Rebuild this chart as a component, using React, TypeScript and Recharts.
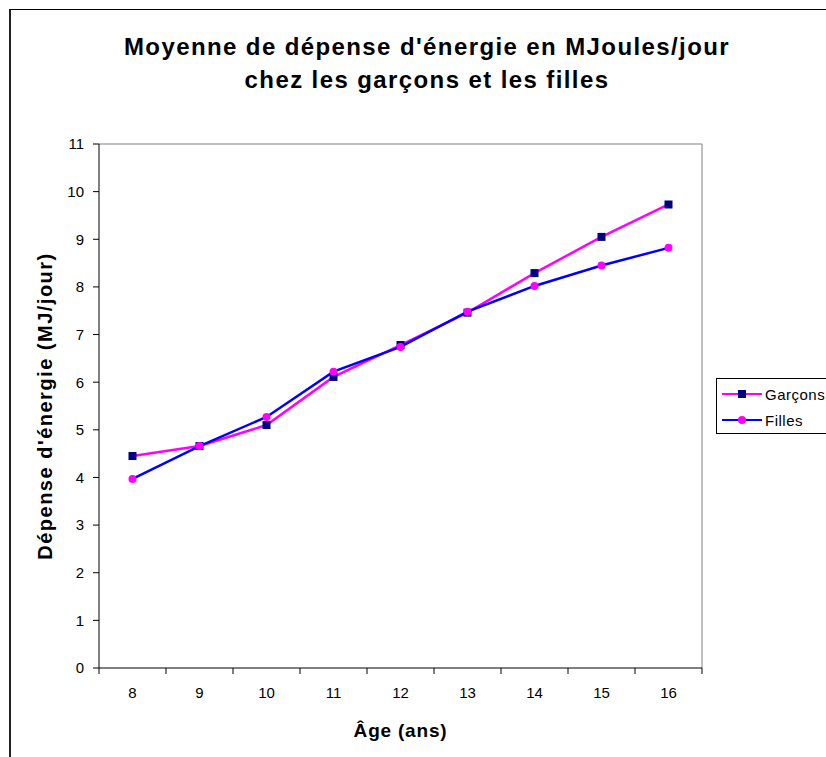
import {
  LineChart,
  Line,
  XAxis,
  YAxis,
  Legend,
  ReferenceLine,
} from "recharts"

const ages = [8, 9, 10, 11, 12, 13, 14, 15, 16]
const garcons = [4.45, 4.66, 5.1, 6.11, 6.78, 7.46, 8.29, 9.05, 9.73]
const filles = [3.97, 4.66, 5.27, 6.22, 6.74, 7.48, 8.02, 8.45, 8.82]
const yTicks = [0, 1, 2, 3, 4, 5, 6, 7, 8, 9, 10, 11]
// ticks on the half values mark category boundaries, integers carry the labels
const xTicks = [7.5, 8, 8.5, 9, 9.5, 10, 10.5, 11, 11.5, 12, 12.5, 13, 13.5, 14, 14.5, 15, 15.5, 16, 16.5]

const series = [
  { key: "garcons", name: "Garçons", stroke: "#ff00ff", marker: "square", markerColor: "#000080" },
  { key: "filles", name: "Filles", stroke: "#0000ff", marker: "circle", markerColor: "#ff00ff" },
]

const data = ages.map((age, i) => ({ age, garcons: garcons[i], filles: filles[i] }))

const FONT = "'Liberation Sans', Arial, sans-serif"

const SquareDot = ({ cx, cy, index }: any) => (
  <rect key={`sq-${index}`} x={cx - 4} y={cy - 4} width={8} height={8} fill="#000080" />
)

const CircleDot = ({ cx, cy, index }: any) => (
  <circle key={`ci-${index}`} cx={cx} cy={cy} r={4} fill="#ff00ff" />
)

const AgeTick = ({ x, y, payload }: any) => {
  const v = payload.value
  const axisY = y - 2
  if (v % 1 !== 0) {
    return <line x1={x} y1={axisY} x2={x} y2={axisY + 6} stroke="#000" strokeWidth={1} />
  }
  return (
    <text x={x} y={axisY + 30} textAnchor="middle" fontSize={15} fontFamily={FONT} fill="#000">
      {v}
    </text>
  )
}

const LegendBox = () => (
  <div
    style={{
      border: "1px solid #000",
      background: "#fff",
      width: 130,
      height: 56,
      boxSizing: "border-box",
      fontFamily: FONT,
      fontSize: 15,
      letterSpacing: 0.5,
      paddingTop: 2,
    }}
  >
    {series.map((s) => (
      <div key={s.key} style={{ display: "flex", alignItems: "center", height: 26 }}>
        <svg width={48} height={12} style={{ marginLeft: 5 }}>
          <line x1={0} y1={6} x2={40} y2={6} stroke={s.stroke} strokeWidth={2} />
          {s.marker === "square" ? (
            <rect x={16} y={2} width={8} height={8} fill={s.markerColor} />
          ) : (
            <circle cx={20} cy={6} r={4} fill={s.markerColor} />
          )}
        </svg>
        <span style={{ marginLeft: -5 }}>{s.name}</span>
      </div>
    ))}
  </div>
)

export default function App() {
  return (
    <div
      style={{
        position: "absolute",
        left: 0,
        top: 0,
        width: 826,
        height: 757,
        overflow: "hidden",
        background: "#fff",
      }}
    >
      <div
        style={{
          position: "absolute",
          left: 9,
          top: 9,
          width: 1000,
          height: 1000,
          borderLeft: "2px solid #222",
          borderTop: "1px solid #000",
        }}
      />
      <div
        style={{
          position: "absolute",
          left: 0,
          top: 30,
          width: 854,
          textAlign: "center",
          fontFamily: FONT,
          fontWeight: "bold",
          fontSize: 24,
          letterSpacing: 1.4,
          lineHeight: "33px",
          color: "#000",
        }}
      >
        Moyenne de dépense d'énergie en MJoules/jour
        <br />
        chez les garçons et les filles
      </div>
      <div style={{ position: "absolute", left: 0, top: 0 }}>
        <LineChart
          width={826}
          height={757}
          data={data}
          margin={{ top: 144, right: 124, bottom: 0, left: 9 }}
        >
          <XAxis
            dataKey="age"
            type="number"
            domain={[7.5, 16.5]}
            ticks={xTicks}
            interval={0}
            tickLine={false}
            tickSize={0}
            tick={<AgeTick />}
            height={89}
            axisLine={{ stroke: "#000" }}
            label={{
              value: "Âge (ans)",
              position: "insideBottom",
              offset: 20,
              style: { fontFamily: FONT, fontWeight: "bold", fontSize: 19, letterSpacing: 0.8, fill: "#000" },
            }}
          />
          <YAxis
            type="number"
            domain={[0, 11]}
            ticks={yTicks}
            interval={0}
            width={90}
            tickSize={6}
            tickMargin={9}
            axisLine={{ stroke: "#000" }}
            tickLine={{ stroke: "#000" }}
            tick={{ fontSize: 15, fontFamily: FONT, fill: "#000" }}
            label={{
              value: "Dépense d'énergie (MJ/jour)",
              angle: -90,
              position: "insideLeft",
              offset: 36,
              style: {
                textAnchor: "middle",
                fontFamily: FONT,
                fontWeight: "bold",
                fontSize: 20,
                letterSpacing: 1.5,
                fill: "#000",
              },
            }}
          />
          <ReferenceLine y={11} stroke="#808080" />
          <ReferenceLine x={16.5} stroke="#808080" />
          <Legend
            layout="horizontal"
            verticalAlign="middle"
            align="center"
            content={<LegendBox />}
            wrapperStyle={{ left: 716, top: 378, width: 130 }}
          />
          <Line
            dataKey="garcons"
            name="Garçons"
            stroke="#ff00ff"
            strokeWidth={2.5}
            dot={<SquareDot />}
            activeDot={false}
            isAnimationActive={false}
          />
          <Line
            dataKey="filles"
            name="Filles"
            stroke="#0000ff"
            strokeWidth={2.5}
            dot={<CircleDot />}
            activeDot={false}
            isAnimationActive={false}
          />
        </LineChart>
      </div>
    </div>
  )
}
